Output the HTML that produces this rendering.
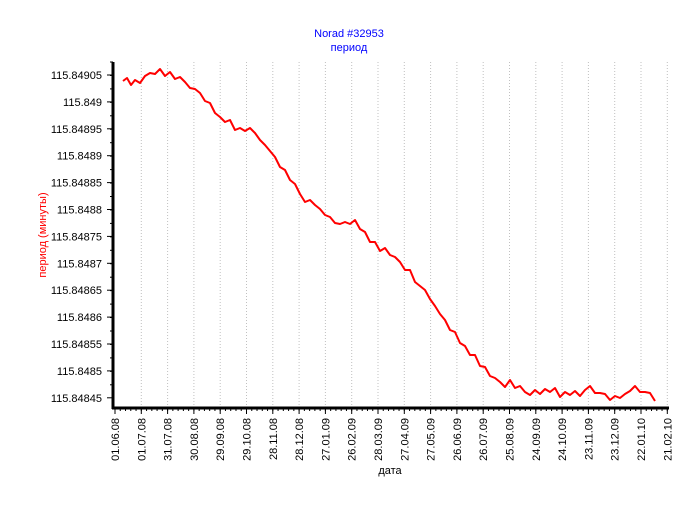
<!DOCTYPE html>
<html><head><meta charset="utf-8"><style>
body{margin:0;background:#fff;}
svg text{font-family:"Liberation Sans",sans-serif;}
</style></head><body>
<svg width="700" height="500" xmlns="http://www.w3.org/2000/svg">
<rect width="700" height="500" fill="#fff"/>
<text x="349" y="37" font-size="11" fill="#0000ff" text-anchor="middle">Norad #32953</text>
<text x="349" y="51" font-size="11" fill="#0000ff" text-anchor="middle">период</text>
<g id="grid" stroke="#c0c0c0" stroke-dasharray="1,2" stroke-width="1"></g>
<g id="ticks" stroke="#000" stroke-width="1"></g>
<g id="lab" font-size="11" fill="#000"></g>
<line x1="113" y1="62" x2="113" y2="409" stroke="#000" stroke-width="3"/>
<line x1="112" y1="408" x2="669" y2="408" stroke="#000" stroke-width="3"/>
<polyline fill="none" stroke="#ff0000" stroke-width="2" stroke-linejoin="round" points="123,81 127,78 131,85 135,80 140,83 145,76 150,73 155,74 160,69 165,76 170,72 175,79 180,77 185,82 190,88 195,89 200,93 205,101 210,103 215,113 220,117 225,122 230,120 235,130 240,128 245,131 250,128 255,133 260,140 265,145 270,151 275,157 280,167 285,170 290,180 295,184 300,194 305,202 310,200 315,205 320,209 325,215 330,217 335,223 340,224 345,222 350,224 355,220 360,229 365,232 370,242 375,242 380,251 385,248 390,255 395,257 400,262 405,270 410,270 415,282 420,286 425,290 430,299 435,306 440,314 445,320 450,330 455,332 460,343 465,346 470,355 475,355 480,366 485,367 490,376 495,378 500,382 505,387 510,380 515,388 520,386 525,392 530,395 535,390 540,394 545,389 550,392 555,388 560,397 565,392 570,395 575,391 580,396 585,390 590,386 595,393 600,393 605,394 610,400 615,396 620,398 625,394 630,391 635,386 640,392 645,392 650,393 655,401"/>
<text transform="translate(46,235) rotate(-90)" font-size="11" fill="#ff0000" text-anchor="middle">период (минуты)</text>
<text x="390" y="474" font-size="11" fill="#000" text-anchor="middle">дата</text>
</svg>
<script>
var ns="http://www.w3.org/2000/svg";
function el(p,t,a,txt){var e=document.createElementNS(ns,t);for(var k in a)e.setAttribute(k,a[k]);if(txt)e.textContent=txt;document.getElementById(p).appendChild(e);}
var yl=["115.84905","115.849","115.84895","115.8489","115.84885","115.8488","115.84875","115.8487","115.84865","115.8486","115.84855","115.8485","115.84845"];
for(var i=0;i<13;i++){var y=75+i*26.9;el("ticks","line",{x1:107,y1:y,x2:113,y2:y});el("lab","text",{x:102,y:y+4,"text-anchor":"end"},yl[i]);}
for(var i=0;i<25;i++){var y=62+i*13.45;if(y<408)el("ticks","line",{x1:110,y1:y,x2:113,y2:y});}
var xl=["01.06.08","01.07.08","31.07.08","30.08.08","29.09.08","29.10.08","28.11.08","28.12.08","27.01.09","26.02.09","28.03.09","27.04.09","27.05.09","26.06.09","26.07.09","25.08.09","24.09.09","24.10.09","23.11.09","23.12.09","22.01.10","21.02.10"];
for(var i=0;i<22;i++){var x=115+i*26.3;if(i>0)el("grid","line",{x1:x,y1:62,x2:x,y2:407});el("ticks","line",{x1:x,y1:408,x2:x,y2:414});el("lab","text",{transform:"translate("+(x+4)+",418) rotate(-90)","text-anchor":"end"},xl[i]);}
for(var i=0;i<110;i++){var x=115+i*26.3/5;if(x<668)el("ticks","line",{x1:x,y1:408,x2:x,y2:411});}
</script>
</body></html>
